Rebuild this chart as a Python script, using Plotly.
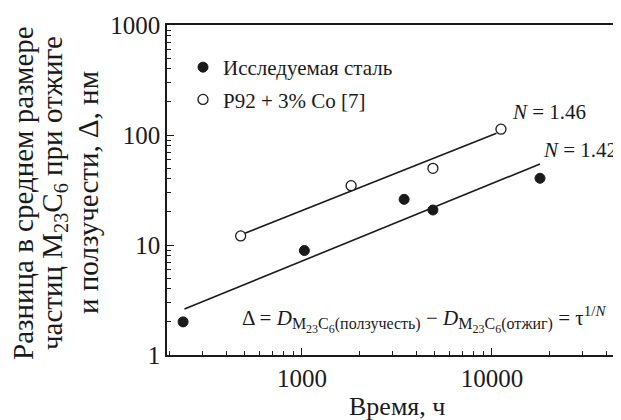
import numpy as np
import plotly.graph_objects as go

# Data
steel_time = [237, 1030, 3450, 4890, 17900]
steel_delta = [2.0, 8.9, 26, 20.8, 40.4]
p92_time = [476, 1815, 4890, 11150]
p92_delta = [12.1, 34.6, 49.8, 113]
steel_fit_time = [241, 17900]
steel_fit_delta = [2.62, 54.5]
p92_fit_time = [501, 10570]
p92_fit_delta = [12.8, 103.6]
x_tick_vals = [1000, 10000]
y_tick_vals = [1, 10, 100, 1000]

# page body has an 8px margin; figure is sized so it fills the 621x420 window
OFF = 8
W, H = 621 - OFF, 420 - OFF
PLOT_L, PLOT_R, PLOT_T, PLOT_B = 167, 621, 25, 355   # window pixels
L, R, T, B = PLOT_L - OFF, 621 - PLOT_R, PLOT_T - OFF, H - (PLOT_B - OFF)
PW, PH = PLOT_R - PLOT_L, PLOT_B - PLOT_T

def px(x):
    return (x - PLOT_L) / PW

def py(y):
    return (PLOT_B - y) / PH

FONT = "Times New Roman, Liberation Serif, serif"
BLACK = "#1a1a1a"

fig = go.Figure()
fig.add_trace(go.Scatter(x=steel_fit_time, y=steel_fit_delta, mode="lines",
                         line=dict(color=BLACK, width=1.6), showlegend=False, hoverinfo="skip"))
fig.add_trace(go.Scatter(x=p92_fit_time, y=p92_fit_delta, mode="lines",
                         line=dict(color=BLACK, width=1.6), showlegend=False, hoverinfo="skip"))
fig.add_trace(go.Scatter(x=steel_time, y=steel_delta, mode="markers", name="Исследуемая сталь",
                         legendgroup="a",
                         marker=dict(symbol="circle", size=10, color=BLACK,
                                     line=dict(color=BLACK, width=1))))
fig.add_trace(go.Scatter(x=p92_time, y=p92_delta, mode="markers", name="P92 + 3% Co [7]",
                         legendgroup="b",
                         marker=dict(symbol="circle", size=10, color="white",
                                     line=dict(color=BLACK, width=1.3))))

minor_x = [v * m for v in [100, 1000, 10000] for m in range(2, 10)]
minor_y = [v * m for v in [1, 10, 100] for m in range(2, 10)]

fig.update_xaxes(type="log", range=[np.log10(195), 4.679], automargin=False,
                 tickmode="array", tickvals=x_tick_vals, ticktext=[str(v) for v in x_tick_vals],
                 ticks="inside", ticklen=7, tickwidth=1.2, tickcolor=BLACK,
                 showline=True, linecolor=BLACK, linewidth=1.5, mirror=True,
                 showgrid=False, zeroline=False,
                 minor=dict(tickmode="array", tickvals=minor_x, ticks="inside", ticklen=4,
                            tickwidth=1, tickcolor=BLACK, showgrid=False),
                 tickfont=dict(family=FONT, size=25, color=BLACK))
fig.update_yaxes(type="log", range=[0, 3], automargin=False,
                 tickmode="array", tickvals=y_tick_vals, ticktext=[str(v) for v in y_tick_vals],
                 ticks="inside", ticklen=7, tickwidth=1.2, tickcolor=BLACK,
                 showline=True, linecolor=BLACK, linewidth=1.5, mirror=False,
                 showgrid=False, zeroline=False,
                 minor=dict(tickmode="array", tickvals=minor_y, ticks="inside", ticklen=4,
                            tickwidth=1, tickcolor=BLACK, showgrid=False),
                 tickfont=dict(family=FONT, size=25, color=BLACK))

ytitle = ["Разница в среднем размере",
          "частиц M<sub>23</sub>C<sub>6</sub> при отжиге",
          "и ползучести, Δ, нм"]
for xp, txt in zip([23, 54, 88], ytitle):
    fig.add_annotation(x=px(xp), y=py(193), xref="paper", yref="paper", text=txt,
                       textangle=-90, showarrow=False, xanchor="center", yanchor="middle",
                       font=dict(family=FONT, size=29, color=BLACK))

fig.add_annotation(x=px(397), y=py(407), xref="paper", yref="paper", text="Время, ч",
                   showarrow=False, xanchor="center", yanchor="middle",
                   font=dict(family=FONT, size=26, color=BLACK))

fig.add_annotation(x=px(510), y=py(112), xref="paper", yref="paper",
                   text="<i>N</i> = 1.46", showarrow=False, xanchor="left", yanchor="middle",
                   font=dict(family=FONT, size=21, color=BLACK))
fig.add_annotation(x=px(541), y=py(150), xref="paper", yref="paper",
                   text="<i>N</i> = 1.42", showarrow=False, xanchor="left", yanchor="middle",
                   font=dict(family=FONT, size=21, color=BLACK))

SUB = "<sub><span style='font-size:16px'>M<sub><span style='font-size:12px'>23</span></sub>C<sub><span style='font-size:12px'>6</span></sub>({})</span></sub>"
formula = ("Δ = <i>D</i>" + SUB.format("ползучесть") + " − <i>D</i>" + SUB.format("отжиг")
           + " = τ<sup><span style='font-size:15px'>1/<i>N</i></span></sup>")
fig.add_annotation(x=px(240), y=py(319), xref="paper", yref="paper",
                   text=formula, showarrow=False, xanchor="left", yanchor="middle",
                   font=dict(family=FONT, size=21, color=BLACK))

fig.update_layout(width=W, height=H, margin=dict(l=L, r=R, t=T, b=B),
                  paper_bgcolor="white", plot_bgcolor="white",
                  showlegend=True,
                  legend=dict(x=px(183), y=py(47), xanchor="left", yanchor="top",
                              bgcolor="rgba(0,0,0,0)", itemwidth=30, tracegroupgap=2,
                              font=dict(family=FONT, size=21, color=BLACK)))

fig.write_html("out.html")
